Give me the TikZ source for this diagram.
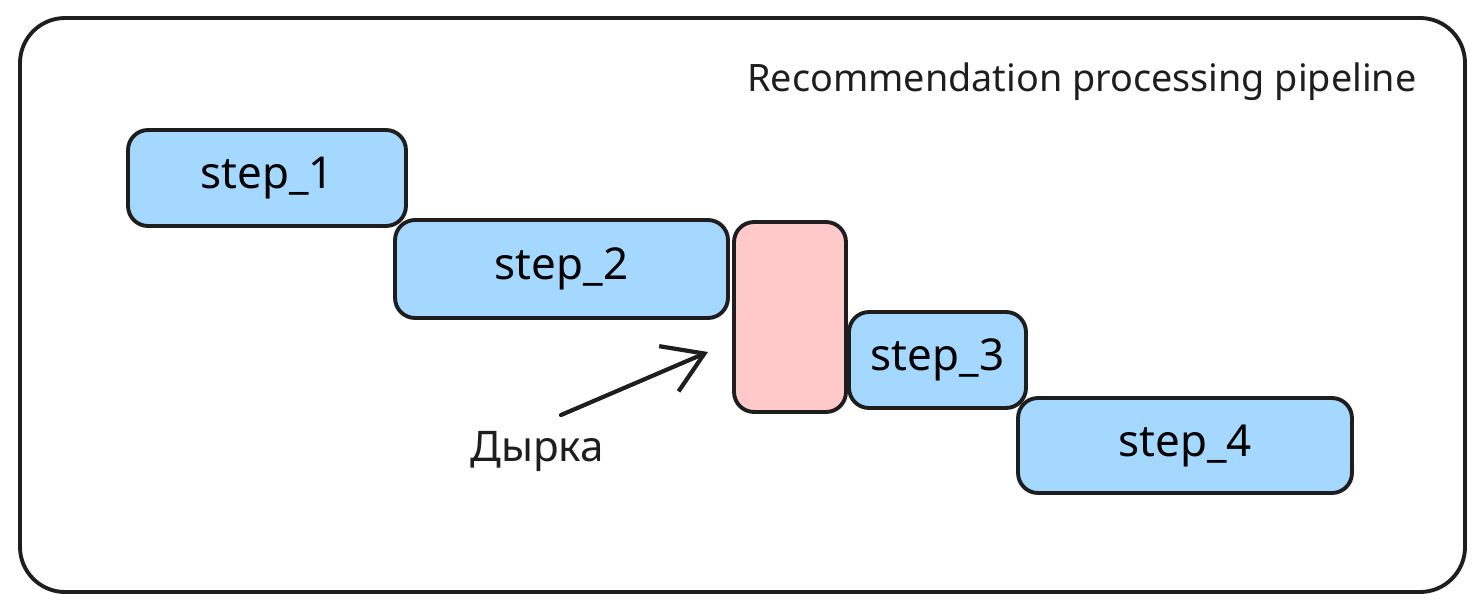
\documentclass[tikz,border=0pt]{standalone}
\usepackage{fontspec}
\setmainfont{Noto Sans}
\usetikzlibrary{arrows.meta}

\definecolor{inkline}{HTML}{1E1E1E}
\definecolor{stepblue}{HTML}{A5D8FF}
\definecolor{holepink}{HTML}{FFC9C9}

\tikzset{
  stepbox/.style={draw=inkline, fill=stepblue, line width=2.2pt, rounded corners=0.4cm,
    font=\fontsize{25}{29}\selectfont, inner sep=0pt},
  holebox/.style={stepbox, fill=holepink},
  handarrow/.style={draw=inkline, line width=2.4pt, line cap=round,
    -{Straight Barb[length=22pt, width=28pt, line width=2.4pt]}},
}

\begin{document}
\begin{tikzpicture}[x=0.02cm, y=-0.02cm]
				\useasboundingbox (0,0) rectangle (1484,612);

				% Draw frame
				\draw[inkline, line width=2.2pt, rounded corners=0.9cm] (20,18) rectangle (1465,592);
				\node[font=\fontsize{21.5}{25}\selectfont, text=inkline] (title) at (1082,82) {Recommendation processing pipeline};

				% Steps
				\node[stepbox, minimum width=5.56cm, minimum height=1.92cm] (step1) at (267,178) {step\_1};
				\node[stepbox, minimum width=6.66cm, minimum height=1.96cm] (step2) at (561.5,269) {step\_2};
				\node[holebox, minimum width=2.24cm, minimum height=3.8cm] (hole) at (790,317) {};
				\node[stepbox, minimum width=3.54cm, minimum height=1.92cm] (step3) at (937.5,360) {step\_3};
				\node[stepbox, minimum width=6.68cm, minimum height=1.9cm] (step4) at (1185,445.5) {step\_4};

				% Hole label
				\node[font=\fontsize{24}{28}\selectfont, text=inkline] (holelabel) at (537,452) {Дырка};
				\coordinate (tail) at (561,415);
				\coordinate (tip) at (708,352);
				\draw[handarrow] (tail) -- (tip);
			\end{tikzpicture}
\end{document}
